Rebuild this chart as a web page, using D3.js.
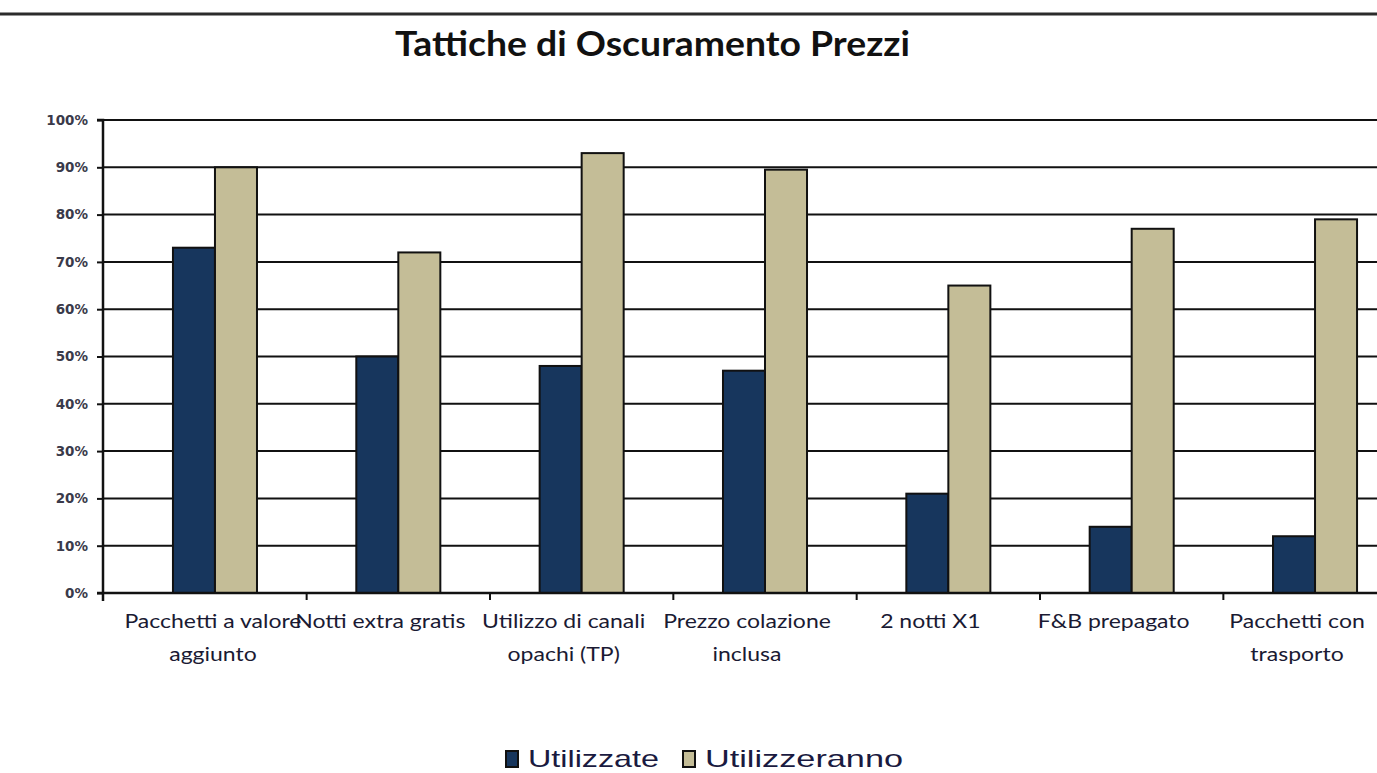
<!DOCTYPE html>
<html>
<head>
<meta charset="utf-8">
<script src="https://cdn.jsdelivr.net/npm/d3@7"></script>
<style>
  body { margin: 0; background: #fff; }
  svg { display: block; }
</style>
</head>
<body>
<div id="chart"></div>
<script>
// data
var categories = [
  ["Pacchetti a valore", "aggiunto"],
  ["Notti extra gratis"],
  ["Utilizzo di canali", "opachi (TP)"],
  ["Prezzo colazione", "inclusa"],
  ["2 notti X1"],
  ["F&B prepagato"],
  ["Pacchetti con", "trasporto"]
];
var seriesNames = ["Utilizzate", "Utilizzeranno"];
var utilizzate = [0.73, 0.50, 0.48, 0.47, 0.21, 0.14, 0.12];
var utilizzeranno = [0.90, 0.72, 0.93, 0.895, 0.65, 0.77, 0.79];
var yTicks = [0, 0.1, 0.2, 0.3, 0.4, 0.5, 0.6, 0.7, 0.8, 0.9, 1];
var colors = ["#17365d", "#c4bd97"];

var svgWidth = 1377, svgHeight = 773;
var svg = d3.select("#chart").append("svg")
  .attr("width", svgWidth)
  .attr("height", svgHeight);

// top rule
svg.append("line")
  .attr("x1", 0).attr("x2", svgWidth)
  .attr("y1", 14).attr("y2", 14)
  .attr("stroke", "#2b2b2b")
  .attr("stroke-width", 3);

// title
svg.append("text")
  .attr("x", 395).attr("y", 56)
  .attr("textLength", 515)
  .attr("lengthAdjust", "spacingAndGlyphs")
  .style("font-family", "Lato, 'Open Sans', sans-serif")
  .style("font-weight", "bold")
  .style("font-size", "34px")
  .attr("fill", "#111")
  .text("Tattiche di Oscuramento Prezzi");

var axisLeft = 103;
var labels = categories.map(function(c) { return c.join(" "); });

var x = d3.scaleBand()
  .domain(labels)
  .range([123.3, 1406.7])
  .paddingInner(0.5417)
  .paddingOuter(0.27085);

var x1 = d3.scaleBand()
  .domain(seriesNames)
  .range([0, x.bandwidth()]);

var y = d3.scaleLinear()
  .domain([0, 1])
  .range([593, 120]);

// gridlines
svg.append("g")
  .selectAll("line")
  .data(yTicks.slice(1))
  .enter()
  .append("line")
  .attr("x1", axisLeft).attr("x2", svgWidth)
  .attr("y1", d => y(d)).attr("y2", d => y(d))
  .attr("stroke", "#111")
  .attr("stroke-width", 2);

// bars
var rows = labels.map(function(l, i) {
  return [
    { cat: l, s: seriesNames[0], v: utilizzate[i] },
    { cat: l, s: seriesNames[1], v: utilizzeranno[i] }
  ];
});

svg.append("g")
  .selectAll("g")
  .data(rows)
  .enter()
  .append("g")
  .attr("transform", d => `translate(${x(d[0].cat)},0)`)
  .selectAll("rect")
  .data(d => d)
  .enter()
  .append("rect")
  .attr("x", d => x1(d.s))
  .attr("y", d => y(d.v))
  .attr("width", x1.bandwidth())
  .attr("height", d => y(0) - y(d.v))
  .attr("fill", (d, i) => colors[i])
  .attr("stroke", "#111")
  .attr("stroke-width", 2);

// y axis
var yAxis = d3.axisLeft(y)
  .tickValues(yTicks)
  .tickFormat(d3.format(".0%"))
  .tickSize(6)
  .tickPadding(9);

var yG = svg.append("g")
  .attr("transform", `translate(${axisLeft},0)`)
  .call(yAxis);
yG.select(".domain").attr("stroke", "#111").attr("stroke-width", 2.5)
  .attr("d", `M-6,${y(1)}H0V${y(0) + 8}`);
yG.selectAll(".tick line").attr("stroke", "#111").attr("stroke-width", 2);
yG.selectAll(".tick text")
  .style("font-family", "'DejaVu Sans', sans-serif")
  .style("font-size", "13.5px")
  .style("font-weight", "bold")
  .attr("fill", "#3a3a4a");

// x axis baseline
var xG = svg.append("g")
  .attr("transform", `translate(0,${y(0)})`);
xG.append("line")
  .attr("x1", axisLeft - 6).attr("x2", svgWidth)
  .attr("stroke", "#111")
  .attr("stroke-width", 2.5);
xG.selectAll(".xtick")
  .data(labels.slice(1))
  .enter()
  .append("line")
  .attr("x1", d => x(d) - (x.step() - x.bandwidth()) / 2)
  .attr("x2", d => x(d) - (x.step() - x.bandwidth()) / 2)
  .attr("y1", 0).attr("y2", 7)
  .attr("stroke", "#111")
  .attr("stroke-width", 2);

// category labels
var catText = xG.selectAll(".cat")
  .data(categories)
  .enter()
  .append("text")
  .attr("text-anchor", "middle")
  .attr("transform", (d, i) => `translate(${x(labels[i]) + x.bandwidth() / 2 - (i === 0 ? 2 : 18)},35) scale(1.15,1)`)
  .style("font-family", "Lato, sans-serif")
  .style("font-size", "20px")
  .attr("fill", "#1a1a33");

catText.selectAll("tspan")
  .data(d => d)
  .enter()
  .append("tspan")
  .attr("x", 0)
  .attr("dy", (d, i) => i === 0 ? 0 : 33)
  .text(d => d);

// legend
var legendX = [506, 683];
var legendW = [131, 198];
var legend = svg.append("g")
  .selectAll("g")
  .data(seriesNames)
  .enter()
  .append("g")
  .attr("transform", (d, i) => `translate(${legendX[i]},750)`);

legend.append("rect")
  .attr("width", 12).attr("height", 16)
  .attr("y", 1)
  .attr("fill", (d, i) => colors[i])
  .attr("stroke", "#111")
  .attr("stroke-width", 2);

legend.append("text")
  .attr("x", 22).attr("y", 17)
  .attr("textLength", (d, i) => legendW[i])
  .attr("lengthAdjust", "spacingAndGlyphs")
  .style("font-family", "'Liberation Sans', Arial, sans-serif")
  .style("font-size", "24px")
  .attr("fill", "#1a1a40")
  .text(d => d);
</script>
</body>
</html>
